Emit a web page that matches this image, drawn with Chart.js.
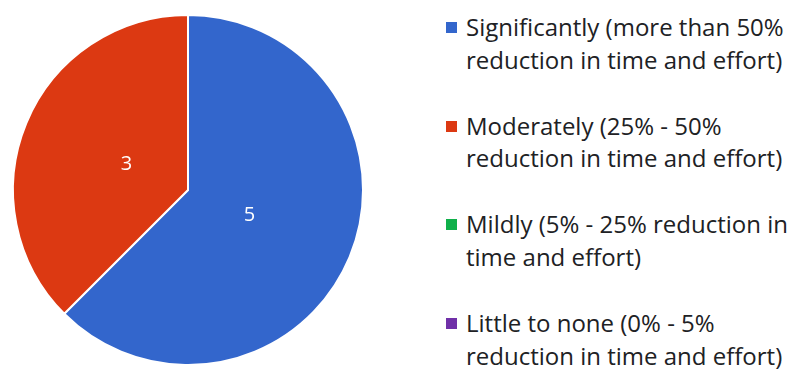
<!DOCTYPE html>
<html>
<head>
<meta charset="utf-8">
<script src="https://cdn.jsdelivr.net/npm/chart.js@4/dist/chart.umd.min.js"></script>
<style>
  body { margin: 0; background: #fff; font-family: "Open Sans", sans-serif; }
  #wrap { position: relative; width: 799px; height: 382px; }
  #box { position: absolute; left: 0; top: 0; width: 376px; height: 382px; }
  #legend { position: absolute; left: 446px; top: 11px; width: 353px; }
  .item { position: relative; padding-left: 20px; font-size: 24px; line-height: 32.5px; color: #202124; height: 98.7px; white-space: nowrap; }
  .sw { position: absolute; left: 0; top: 11px; width: 11px; height: 11px; }
</style>
</head>
<body>
<div id="wrap">
  <div id="box"><canvas id="chartPie"></canvas></div>
  <div id="legend"></div>
</div>
<script>
var categories = [
  ["Significantly (more than 50%", "reduction in time and effort)"],
  ["Moderately (25% - 50%", "reduction in time and effort)"],
  ["Mildly (5% - 25% reduction in", "time and effort)"],
  ["Little to none (0% - 5%", "reduction in time and effort)"]
];
var counts = [5, 3, 0, 0];
var colors = ['#3366cc', '#dc3912', '#0fb04a', '#7030a8'];

document.addEventListener("DOMContentLoaded", function () {

  // white value labels inside the slices
  var sliceLabels = {
    id: 'sliceLabels',
    afterDatasetsDraw: function (chart) {
      let ctx = chart.ctx;
      let meta = chart.getDatasetMeta(0);
      ctx.save();
      ctx.fillStyle = '#fff';
      ctx.font = '20px "Open Sans", sans-serif';
      ctx.textAlign = 'center';
      ctx.textBaseline = 'middle';
      meta.data.forEach(function (arc, i) {
        if (!counts[i]) return;
        let mid = (arc.startAngle + arc.endAngle) / 2;
        let r = arc.outerRadius * 0.38;
        ctx.fillText(String(counts[i]), arc.x + Math.cos(mid) * r, arc.y + Math.sin(mid) * r);
      });
      ctx.restore();
    }
  };

  let ctx = document.getElementById('chartPie');
  var myChart = new Chart(ctx, {
    type: 'pie',
    data: {
      labels: categories.map(c => c.join(' ')),
      datasets: [
        {
          data: counts,
          backgroundColor: colors,
          borderColor: '#fff',
          borderWidth: 2
        }
      ]
    },
    options: {
      responsive: true,
      maintainAspectRatio: false,
      animation: false,
      layout: { padding: { top: 14, bottom: 16, left: 12, right: 12 } },
      plugins: {
        legend: { display: false },
        tooltip: { enabled: false }
      }
    },
    plugins: [sliceLabels]
  });

  var html = '';
  categories.forEach(function (lines, i) {
    html += '<div class="item"><span class="sw" style="background:' + colors[i] + '"></span>' + lines.join('<br>') + '</div>';
  });
  document.getElementById('legend').innerHTML = html;

});
</script>
</body>
</html>
